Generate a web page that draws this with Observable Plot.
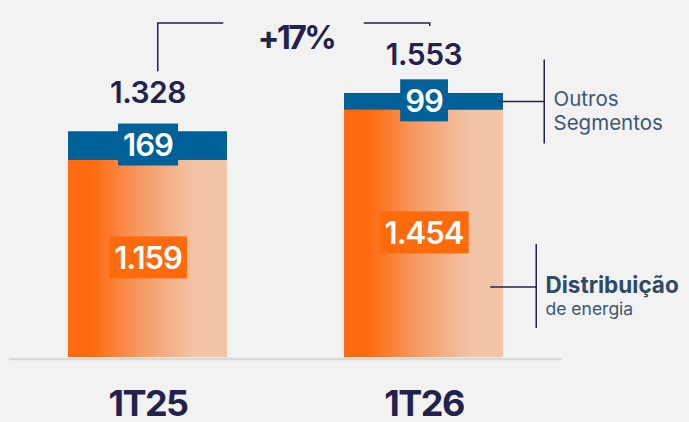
<!DOCTYPE html>
<html>
<head>
<meta charset="utf-8">
<script src="https://cdn.jsdelivr.net/npm/d3@7"></script>
<script src="https://cdn.jsdelivr.net/npm/@observablehq/plot@0.6"></script>
<style>
  html, body { margin: 0; padding: 0; background: #f2f2f2; }
  #chart { width: 689px; height: 422px; overflow: hidden; }
  svg { display: block; }
</style>
</head>
<body>
<div id="chart"></div>
<script>
// ---- data ----
const periods = ["1T25", "1T26"];
const distribuicao = [1159, 1454];
const outros = [169, 99];
const totals = [1328, 1553];
const growthLabel = "+17%";
const outrosLabel = ["Outros", "Segmentos"];
const distLabel = ["Distribuição", "de energia"];

// ---- formatting ----
const ptBR = d3.formatLocale({decimal: ",", thousands: ".", grouping: [3], currency: ["R$", ""]});
const fmt = ptBR.format(",d");

const navy = "#23224c";
const blue = "#006199";
const orange = "#ff6a0d";

const rows = periods.map((p, i) => ({period: p, dist: distribuicao[i], outros: outros[i], total: totals[i]}));

const plot = Plot.plot({
  width: 689,
  height: 422,
  marginLeft: 9,
  marginRight: 127,
  marginTop: 0,
  marginBottom: 65,
  style: {background: "#f2f2f2", fontFamily: "Inter, sans-serif", overflow: "visible"},
  x: {domain: periods, paddingInner: 0.425, paddingOuter: 0.2125, axis: null},
  y: {domain: [0, 2100], axis: null},
  marks: [
    Plot.ruleY([0], {stroke: "#d9d9d9", strokeWidth: 2.5, dy: 1.5}),
    Plot.barY(rows, {x: "period", y1: 0, y2: "dist", fill: "url(#distGrad)"}),
    Plot.barY(rows, {x: "period", y1: "dist", y2: "total", fill: blue}),
    // segment labels
    Plot.text(rows, {x: "period", y: d => d.dist + d.outros / 2, text: d => fmt(d.outros),
      fill: "white", fontSize: 31, fontWeight: 600}),
    Plot.text(rows, {x: "period", y: d => d.dist / 2, text: d => fmt(d.dist),
      fill: "white", fontSize: 31, fontWeight: 600}),
    // totals
    Plot.text(rows, {x: "period", y: "total", dy: -38, text: d => fmt(d.total),
      fill: navy, fontSize: 30, fontWeight: 600}),
    // category labels
    Plot.text(rows, {x: "period", y: 0, dy: 47, text: "period",
      fill: navy, fontSize: 36, fontWeight: 700}),
    // growth
    Plot.text([growthLabel], {frameAnchor: "top", dx: 10, dy: 26, text: d => d,
      fill: navy, fontSize: 32, fontWeight: 700}),
    // annotation texts
    Plot.text([outrosLabel[0]], {frameAnchor: "top-right", textAnchor: "start", dx: -9, dy: 90.5, text: d => d,
      fill: "#3d5872", fontSize: 20.5}),
    Plot.text([outrosLabel[1]], {frameAnchor: "top-right", textAnchor: "start", dx: -9, dy: 115, text: d => d,
      fill: "#3d5872", fontSize: 20.5}),
    Plot.text([distLabel[0]], {frameAnchor: "top-right", textAnchor: "start", dx: -17, dy: 277, text: d => d,
      fill: "#2f4a63", fontSize: 22.5, fontWeight: 700}),
    Plot.text([distLabel[1]], {frameAnchor: "top-right", textAnchor: "start", dx: -17, dy: 302.5, text: d => d,
      fill: "#3d5872", fontSize: 17.5})
  ]
});

document.getElementById("chart").appendChild(plot);
const svg = d3.select(plot);

// gradient for the distribution segment
const defs = svg.insert("defs", ":first-child");
const grad = defs.append("linearGradient").attr("id", "distGrad").attr("x1", "0").attr("x2", "1").attr("y1", "0").attr("y2", "0");
[["0%", "#fd6b12"], ["15%", orange], ["45%", "#f59a62"], ["80%", "#f2c4a8"], ["100%", "#f2c4a8"]]
  .forEach(([o, c]) => grad.append("stop").attr("offset", o).attr("stop-color", c));

// select text nodes by their content
const allText = svg.selectAll("text");
const byContent = (labels) => allText.filter(function () { return labels.includes(this.textContent); });
const blueLabels = outros.map(fmt), orangeLabels = distribuicao.map(fmt);

byContent([...blueLabels, ...orangeLabels]).style("letter-spacing", "-1px");
byContent(totals.map(fmt)).style("letter-spacing", "-0.5px");
byContent(periods).style("letter-spacing", "-1.5px");
byContent([growthLabel]).style("letter-spacing", "-2.5px");

// boxes behind segment labels
function boxify(sel, color) {
  sel.each(function () {
    const b = this.getBBox();
    const cy = b.y + b.height / 2;
    const w = b.width + 10;
    const t = this.getAttribute("transform");
    const r = d3.select(this.parentNode).insert("rect", () => this)
      .attr("x", b.x + b.width / 2 - w / 2)
      .attr("y", cy - 21)
      .attr("width", w)
      .attr("height", 42)
      .attr("fill", color);
    if (t) r.attr("transform", t);
  });
}
boxify(byContent(blueLabels), blue);
boxify(byContent(orangeLabels), orange);

// annotation lines, positioned from the plot's scales
const sx = plot.scale("x"), sy = plot.scale("y");
const xs = d3.scaleBand().domain(sx.domain).range(sx.range).paddingInner(sx.paddingInner ?? 0.425).paddingOuter(sx.paddingOuter ?? 0.2125);
const ys = d3.scaleLinear().domain(sy.domain).range(sy.range);
const bw = xs.bandwidth();
const c1 = xs(periods[0]) + bw / 2, c2 = xs(periods[1]) + bw / 2;
const r2 = xs(periods[1]) + bw;
const lines = svg.append("g").attr("stroke", navy).attr("stroke-width", 1.5).attr("fill", "none");
const topY = 23;
// growth bracket
lines.append("path").attr("d", `M${c1 + 10.5},${ys(totals[0]) - 60}V${topY}H${c1 + 76}`);
lines.append("path").attr("d", `M${c2 - 60},${topY}H${c2 + 6}V${topY + 3}`);
// Outros leader
const yO = ys(distribuicao[1] + outros[1] / 2);
lines.append("path").attr("d", `M${r2 - 5},${yO}H${r2 + 41}`);
lines.append("path").attr("d", `M${r2 + 41},${yO - 42}V${yO + 42}`);
// Distribuição leader
const yD = 287;
lines.append("path").attr("d", `M${r2 - 13},${yD}H${r2 + 33}`);
lines.append("path").attr("d", `M${r2 + 33},${yD - 43}V${yD + 41}`);
</script>
</body>
</html>
